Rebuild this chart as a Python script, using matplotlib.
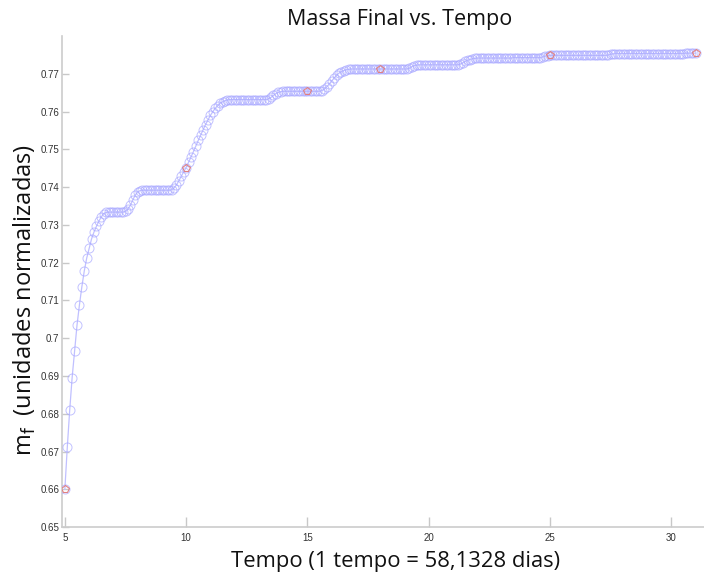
import numpy as np
import matplotlib
matplotlib.use('Agg')
import matplotlib.pyplot as plt

# massa final, amostrada a cada 0.1 tempo de 5 a 31
massa = [
    0.6600, 0.6711, 0.6810, 0.6896, 0.6966, 0.7034, 0.7088, 0.7136, 0.7178, 0.7212,  # 5
    0.7238, 0.7263, 0.7281, 0.7296, 0.7310, 0.7321, 0.7330, 0.7333, 0.7334, 0.7334,  # 6
    0.7334, 0.7334, 0.7334, 0.7334, 0.7334, 0.7336, 0.7342, 0.7352, 0.7366, 0.7379,  # 7
    0.7387, 0.7391, 0.7392, 0.7392, 0.7392, 0.7392, 0.7392, 0.7392, 0.7392, 0.7392,  # 8
    0.7392, 0.7392, 0.7392, 0.7392, 0.7393, 0.7398, 0.7406, 0.7417, 0.7429, 0.7441,  # 9
    0.7452, 0.7466, 0.7480, 0.7494, 0.7509, 0.7524, 0.7538, 0.7552, 0.7566, 0.7578,  # 10
    0.7590, 0.7600, 0.7609, 0.7616, 0.7622, 0.7626, 0.7629, 0.7631, 0.7632, 0.7632,  # 11
    0.7632, 0.7632, 0.7632, 0.7632, 0.7632, 0.7632, 0.7632, 0.7632, 0.7632, 0.7632,  # 12
    0.7632, 0.7632, 0.7632, 0.7632, 0.7634, 0.7638, 0.7643, 0.7648, 0.7651, 0.7653,  # 13
    0.7654, 0.7654, 0.7654, 0.7654, 0.7654, 0.7654, 0.7654, 0.7654, 0.7654, 0.7654,  # 14
    0.7654, 0.7654, 0.7654, 0.7654, 0.7654, 0.7654, 0.7656, 0.7660, 0.7666, 0.7673,  # 15
    0.7681, 0.7689, 0.7696, 0.7702, 0.7706, 0.7709, 0.7711, 0.7712, 0.7713, 0.7713,  # 16
    0.7713, 0.7713, 0.7713, 0.7713, 0.7713, 0.7713, 0.7713, 0.7713, 0.7713, 0.7713,  # 17
    0.7713, 0.7713, 0.7713, 0.7713, 0.7713, 0.7713, 0.7713, 0.7713, 0.7713, 0.7713,  # 18
    0.7713, 0.7713, 0.7715, 0.7719, 0.7722, 0.7723, 0.7724, 0.7724, 0.7724, 0.7724,  # 19
    0.7724, 0.7724, 0.7724, 0.7724, 0.7724, 0.7724, 0.7724, 0.7724, 0.7724, 0.7724,  # 20
    0.7724, 0.7724, 0.7724, 0.7726, 0.7729, 0.7733, 0.7736, 0.7738, 0.7740, 0.7741,  # 21
    0.7742, 0.7742, 0.7742, 0.7742, 0.7742, 0.7742, 0.7742, 0.7742, 0.7742, 0.7742,  # 22
    0.7742, 0.7742, 0.7742, 0.7742, 0.7742, 0.7743, 0.7743, 0.7743, 0.7743, 0.7743,  # 23
    0.7743, 0.7743, 0.7743, 0.7743, 0.7743, 0.7743, 0.7743, 0.7745, 0.7747, 0.7748,  # 24
    0.7749, 0.7749, 0.7749, 0.7749, 0.7749, 0.7749, 0.7749, 0.7749, 0.7749, 0.7749,  # 25
    0.7749, 0.7749, 0.7749, 0.7749, 0.7749, 0.7749, 0.7749, 0.7749, 0.7749, 0.7749,  # 26
    0.7749, 0.7749, 0.7749, 0.7749, 0.7750, 0.7752, 0.7753, 0.7754, 0.7754, 0.7754,  # 27
    0.7754, 0.7754, 0.7754, 0.7754, 0.7754, 0.7754, 0.7754, 0.7754, 0.7754, 0.7754,  # 28
    0.7754, 0.7754, 0.7754, 0.7754, 0.7754, 0.7754, 0.7754, 0.7754, 0.7754, 0.7754,  # 29
    0.7754, 0.7754, 0.7754, 0.7754, 0.7754, 0.7754, 0.7755, 0.7755, 0.7755, 0.7755,  # 30
    0.7755,                                                                          # 31
]
tempo = np.linspace(5, 31, len(massa))

# pontos destacados em vermelho
tempo_marc = [5, 10, 15, 18, 25, 31]
massa_marc = [0.6600, 0.7452, 0.7654, 0.7713, 0.7749, 0.7755]

xticks = [5, 10, 15, 20, 25, 30]
yticks = [0.65, 0.66, 0.67, 0.68, 0.69, 0.70, 0.71, 0.72, 0.73, 0.74, 0.75, 0.76, 0.77]
ytick_labels = ['0.65', '0.66', '0.67', '0.68', '0.69', '0.7', '0.71', '0.72',
                '0.73', '0.74', '0.75', '0.76', '0.77']

fig = plt.figure(figsize=(7.04, 5.83), dpi=100)
ax = fig.add_axes([0.088, 0.096, 0.912, 0.842])

ax.plot(tempo, massa, '-', color='#c0c0ff', lw=0.9, zorder=2)
ax.plot(tempo, massa, 'o', ms=6.5, mfc='none', mec='#a8a8ff', mew=0.7, alpha=0.7, zorder=3)
ax.plot(tempo_marc, massa_marc, 'p', ms=6, mfc='none', mec='#e08080', mew=0.8, zorder=4)

ax.set_xlim(4.88, 31.35)
ax.set_ylim(0.65, 0.78)
ax.set_xticks(xticks)
ax.set_yticks(yticks)
ax.set_yticklabels(ytick_labels)

tick_font = ['Liberation Sans Narrow', 'Liberation Sans', 'DejaVu Sans']
for lab in ax.get_xticklabels() + ax.get_yticklabels():
    lab.set_family(tick_font)
    lab.set_fontsize(7)
    lab.set_color('#333333')
ax.tick_params(axis='both', direction='in', color='#c8c8c8', width=1)
ax.tick_params(axis='x', length=7, pad=4)
ax.tick_params(axis='y', length=5, pad=2)

for s in ['top', 'right']:
    ax.spines[s].set_visible(False)
for s in ['left', 'bottom']:
    ax.spines[s].set_color('#cccccc')
    ax.spines[s].set_linewidth(1.2)

lab_font = ['Open Sans', 'DejaVu Sans']
fig.text(400 / 704, 1 - 20 / 583, 'Massa Final vs. Tempo', ha='center', va='center',
         fontsize=15.5, family=lab_font, color='#111111')
fig.text(396 / 704, 1 - 562 / 583, 'Tempo (1 tempo = 58,1328 dias)', ha='center', va='center',
         fontsize=15.8, family=lab_font, color='#111111')
fig.text(25 / 704, 1 - 300 / 583, r'm$_\mathrm{f}$  (unidades normalizadas)', ha='center',
         va='center', rotation=90, fontsize=17, family=lab_font, color='#111111')

fig.savefig('out.png', dpi=100)
